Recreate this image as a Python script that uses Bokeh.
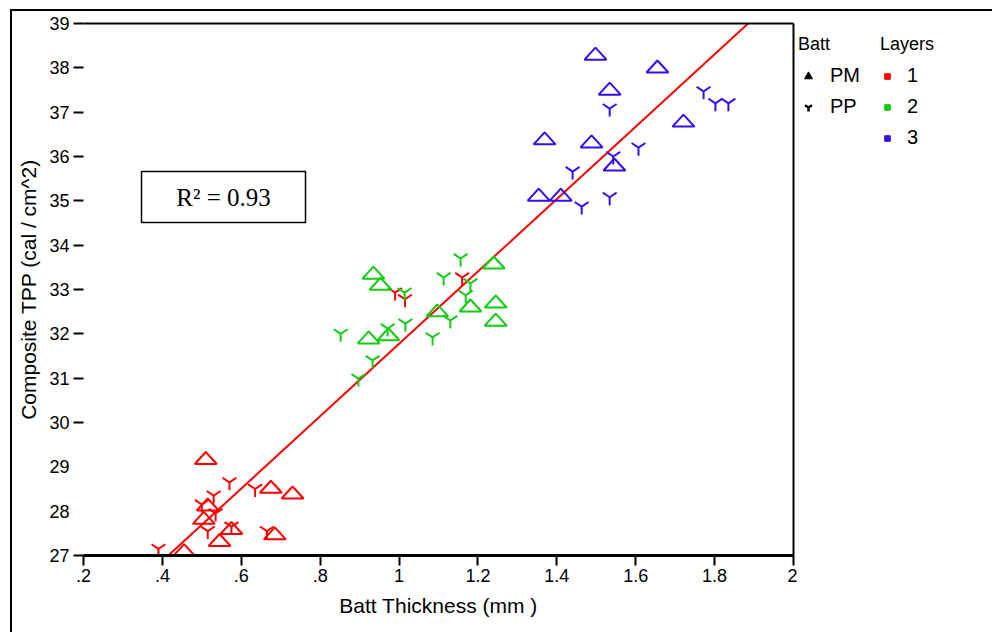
from bokeh.plotting import figure
from bokeh.layouts import row
from bokeh.models import LinearAxis, FixedTicker, Label, BoxAnnotation, Range1d, Legend, LegendItem
from bokeh.embed import file_html
from bokeh.resources import INLINE

# Composite TPP (cal/cm^2) against batt thickness (mm), by batt type and number of layers
pm_l1_x = [0.51, 0.675, 0.73, 0.515, 0.505, 0.545, 0.575, 0.685, 0.455]
pm_l1_y = [29.2, 28.55, 28.42, 28.15, 27.85, 27.35, 27.62, 27.5, 27.12]
pp_l1_x = [0.39, 0.57, 0.635, 0.50, 0.53, 0.535, 0.515, 0.575, 0.665, 0.99, 1.015, 1.16]
pp_l1_y = [27.15, 28.65, 28.5, 28.15, 28.35, 27.95, 27.55, 27.65, 27.55, 32.93, 32.78, 33.27]

pm_l2_x = [0.935, 0.953, 1.24, 1.097, 1.181, 1.245, 1.245, 0.923, 0.973]
pm_l2_y = [33.38, 33.13, 33.61, 32.53, 32.64, 32.73, 32.32, 31.92, 31.99]
pp_l2_x = [1.156, 1.113, 1.014, 1.181, 1.169, 1.13, 1.016, 1.085, 0.852, 0.971, 0.933, 0.897]
pp_l2_y = [33.70, 33.27, 32.93, 33.14, 32.87, 32.30, 32.23, 31.92, 32.0, 32.12, 31.40, 30.99]

pm_l3_x = [1.498, 1.534, 1.369, 1.488, 1.546, 1.354, 1.41, 1.655, 1.721]
pm_l3_y = [38.32, 37.53, 36.41, 36.34, 35.82, 35.14, 35.14, 38.03, 36.81]
pp_l3_x = [1.534, 1.44, 1.543, 1.463, 1.534, 1.772, 1.802, 1.835, 1.607]
pp_l3_y = [37.08, 35.66, 36.0, 34.87, 35.08, 37.47, 37.2, 37.2, 36.2]

# Fitted regression line (end points)
fit_x = [0.415, 1.885]
fit_y = [27.0, 39.0]
r_squared = 0.93

x_ticks = [0.2, 0.4, 0.6, 0.8, 1.0, 1.2, 1.4, 1.6, 1.8, 2.0]
x_tick_labels = [".2", ".4", ".6", ".8", "1", "1.2", "1.4", "1.6", "1.8", "2"]
y_ticks = list(range(27, 40))
y_tick_marks = [27, 30, 31, 32, 33, 34, 35, 36, 37, 38, 39]

batt_types = ["PM", "PP"]
layer_names = ["1", "2", "3"]
layer_colors = ["#FF0000", "#11CC11", "#3010F0"]

FONT = "Liberation Sans"
W, H = 994, 634
CX, CY = 12, 11                      # page position of the canvases (after margin + border)
FL, FR, FT, FB = 83, 793, 23, 555    # plot frame edges on the page (px)
SPLIT = 799                          # page x where the key panel starts
X0, X1, Y0, Y1 = 0.2, 2.0, 27, 39

p = figure(width=SPLIT - CX, height=H - CY, x_range=Range1d(X0, X1), y_range=Range1d(Y0, Y1),
           output_backend="svg", toolbar_location=None,
           margin=(9, 0, 0, 10),
           styles={"border-left": "2px solid black", "border-top": "2px solid black"},
           min_border_left=FL - CX, min_border_right=SPLIT - FR,
           min_border_top=FT - CY, min_border_bottom=H - FB,
           background_fill_color="white", border_fill_color="white",
           outline_line_color=None)
p.xgrid.visible = False
p.ygrid.visible = False

# x axis
xa = p.xaxis[0]
xa.ticker = FixedTicker(ticks=x_ticks)
xa.major_label_overrides = {t: s for t, s in zip(x_ticks, x_tick_labels)}
xa.axis_line_width = 3
xa.axis_line_color = "black"
xa.major_tick_out = 10
xa.major_tick_in = 0
xa.major_tick_line_width = 2
xa.major_tick_line_color = "black"
xa.minor_tick_line_color = None
xa.major_label_text_font = FONT
xa.major_label_text_font_size = "18px"
xa.major_label_text_color = "black"
xa.major_label_standoff = 3
xa.axis_label = "Batt Thickness (mm )"
xa.axis_label_text_font = FONT
xa.axis_label_text_font_size = "21px"
xa.axis_label_text_font_style = "normal"
xa.axis_label_text_color = "black"
xa.axis_label_standoff = 9

# y axis: labels at every unit, tick marks only where drawn
ya = p.yaxis[0]
ya.ticker = FixedTicker(ticks=y_ticks, minor_ticks=y_tick_marks)
ya.axis_line_color = None
ya.major_tick_line_color = None
ya.major_tick_out = 10
ya.major_tick_in = 0
ya.minor_tick_out = 10
ya.minor_tick_in = 0
ya.minor_tick_line_color = "black"
ya.minor_tick_line_width = 2
ya.major_label_text_font = FONT
ya.major_label_text_font_size = "18px"
ya.major_label_text_color = "black"
ya.major_label_standoff = 4
ya.axis_label = "Composite TPP (cal / cm^2)"
ya.axis_label_text_font = FONT
ya.axis_label_text_font_size = "21px"
ya.axis_label_text_font_style = "normal"
ya.axis_label_text_color = "black"
ya.axis_label_standoff = 6

# top and right frame lines
for loc in ("above", "right"):
    ax = LinearAxis(ticker=FixedTicker(ticks=[]), axis_line_width=2, axis_line_color="black",
                    major_tick_line_color=None, minor_tick_line_color=None,
                    major_label_text_font_size="0px", major_label_standoff=0,
                    major_tick_out=0, major_tick_in=0)
    p.add_layout(ax, loc)

ux = (X1 - X0) / (FR - FL)
uy = (Y1 - Y0) / (FB - FT)


def triangles(xs, ys, color):
    txs = [[x - 11 * ux, x, x + 11 * ux] for x in xs]
    tys = [[y - 6 * uy, y + 6 * uy, y - 6 * uy] for y in ys]
    p.patches(txs, tys, fill_color=None, line_color=color, line_width=2)


def forks(xs, ys, color):
    p.scatter(xs, ys, marker="y", size=16, line_color=color, line_width=2)


p.line(fit_x, fit_y, line_color="#FF0000", line_width=2)

groups = [(pm_l1_x, pm_l1_y, pp_l1_x, pp_l1_y),
          (pm_l2_x, pm_l2_y, pp_l2_x, pp_l2_y),
          (pm_l3_x, pm_l3_y, pp_l3_x, pp_l3_y)]
for (ax_, ay_, bx_, by_), col in zip(groups, layer_colors):
    triangles(ax_, ay_, col)
    forks(bx_, by_, col)


def sx(px):
    return px - FL


def sy(py):
    return FB - py


# R^2 box
p.add_layout(BoxAnnotation(left=sx(141), right=sx(305), top=sy(171), bottom=sy(222),
                           left_units="screen", right_units="screen",
                           top_units="screen", bottom_units="screen",
                           fill_color=None, line_color="black", line_alpha=1.0, line_width=1.5))
p.add_layout(Label(x=sx(223), y=sy(197), x_units="screen", y_units="screen",
                   text=f"R\u00b2 = {r_squared:.2f}", text_font="Liberation Serif",
                   text_font_size="25px", text_color="black",
                   text_align="center", text_baseline="middle"))

# key panel to the right of the plot
k = figure(width=W - SPLIT, height=H - CY, x_range=Range1d(0, 1), y_range=Range1d(0, 1),
           output_backend="svg", toolbar_location=None,
           margin=(9, 0, 0, 0), styles={"border-top": "2px solid black"},
           x_axis_type=None, y_axis_type=None,
           min_border_left=0, min_border_right=0, min_border_top=0, min_border_bottom=0,
           background_fill_color="white", border_fill_color="white",
           outline_line_color=None)
k.xgrid.visible = False
k.ygrid.visible = False

# key renderers hold a single point outside the panel's range; only their legend glyphs show
hide = dict(x=[-10], y=[-10])
batt_keys = [k.scatter(marker="triangle", color="black", **hide),
             k.scatter(marker="y", line_color="black", line_width=2.5, **hide)]
layer_keys = [k.scatter(marker="square", color=c, line_color=c, **hide) for c in layer_colors]


def make_legend(title, names, keys, left, top, glyph_w, glyph_h, standoff):
    n = len(names)
    row_h, gap, title_h, title_gap = 23, 8, 21, 9
    height = title_h + title_gap + n * row_h + (n - 1) * gap
    leg = Legend(items=[LegendItem(label=nm, renderers=[kk]) for nm, kk in zip(names, keys)],
                 title=title, location=(left - SPLIT, H - (top + 79 + height)),
                 orientation="vertical",
                 border_line_color=None, background_fill_alpha=0,
                 padding=0, margin=0, spacing=gap,
                 glyph_width=glyph_w, glyph_height=glyph_h, label_height=row_h,
                 label_standoff=standoff,
                 label_text_font=FONT, label_text_font_size="20px", label_text_color="black",
                 title_text_font=FONT, title_text_font_size="18px",
                 title_text_font_style="normal", title_text_color="black",
                 title_standoff=title_gap)
    k.add_layout(leg, "center")


make_legend("Batt", batt_types, batt_keys, 800, 34, 20, 22, 12)
make_legend("Layers", layer_names, layer_keys, 882, 34, 14, 14, 13)

layout = row(p, k)
open("out.html", "w").write(file_html(layout, INLINE))
